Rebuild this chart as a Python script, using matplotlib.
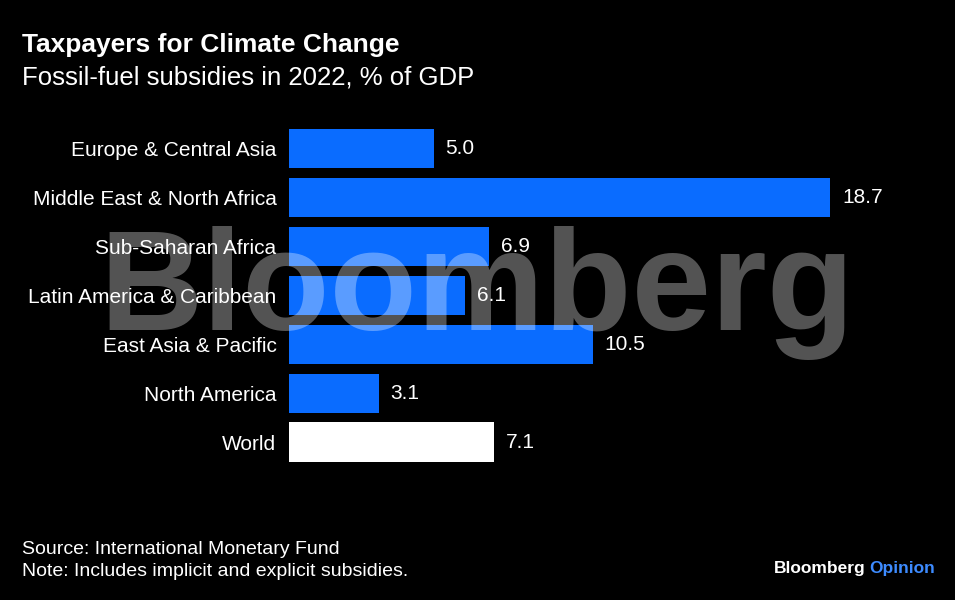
import matplotlib
matplotlib.use("Agg")
import matplotlib.pyplot as plt

categories = ["Europe & Central Asia", "Middle East & North Africa", "Sub-Saharan Africa",
              "Latin America & Caribbean", "East Asia & Pacific", "North America", "World"]
values = [5.0, 18.7, 6.9, 6.1, 10.5, 3.1, 7.1]
value_labels = ["5.0", "18.7", "6.9", "6.1", "10.5", "3.1", "7.1"]

title = "Taxpayers for Climate Change"
subtitle = "Fossil-fuel subsidies in 2022, % of GDP"
source = "Source: International Monetary Fund"
note = "Note: Includes implicit and explicit subsidies."

BLUE = "#0a6cff"
BG = "black"
plt.rcParams['font.family'] = ['Liberation Sans', 'DejaVu Sans']

W, H = 955, 600
fig = plt.figure(figsize=(W / 100, H / 100), dpi=100, facecolor=BG)

left_px, right_px = 289, 289 + 21 * 28.93
top_px, bot_px = 124, 466.5
ax = fig.add_axes([left_px / W, 1 - bot_px / H, (right_px - left_px) / W, (bot_px - top_px) / H])
ax.set_facecolor(BG)

colors = [BLUE] * (len(values) - 1) + ["white"]
ypos = list(range(len(values)))
ax.barh(ypos, values, height=0.8, color=colors, zorder=2)
ax.set_xlim(0, 21)
ax.set_ylim(len(values) - 0.5, -0.5)
for s in ax.spines.values():
    s.set_visible(False)
ax.set_xticks([])
ax.set_yticks(ypos)
ax.set_yticklabels(categories, color="white", fontsize=15)
ax.tick_params(axis="y", length=0, pad=9)

for y, v, lab in zip(ypos, values, value_labels):
    ax.annotate(lab, (v, y), xytext=(8.6, 0), textcoords="offset points",
                va="center", ha="left", color="white", fontsize=15)

fig.text(22 / W, 1 - 45 / H, title, color="white", fontsize=19, fontweight="bold",
         va="center", ha="left")
fig.text(22 / W, 1 - 77 / H, subtitle, color="white", fontsize=18.5, va="center", ha="left")
fig.text(22 / W, 1 - 549 / H, source, color="white", fontsize=14, va="center", ha="left")
fig.text(22 / W, 1 - 572 / H, note, color="white", fontsize=14, va="center", ha="left")

t1 = fig.text(935 / W, 1 - 568 / H, "Opinion", color="#3d8bff", fontsize=12.5,
              fontweight="bold", va="center", ha="right")
fig.canvas.draw()
bb = t1.get_window_extent()
fig.text((bb.x0 - 4) / W, 1 - 568 / H, "Bloomberg", color="white", fontsize=12.5,
         fontweight="bold", va="center", ha="right")

# watermark
fig.text(477 / W, 1 - 293 / H, "Bloomberg", color="white", alpha=0.33, fontsize=103,
         fontweight="bold", va="center", ha="center", zorder=10)

fig.savefig("out.png", dpi=100, facecolor=BG)
